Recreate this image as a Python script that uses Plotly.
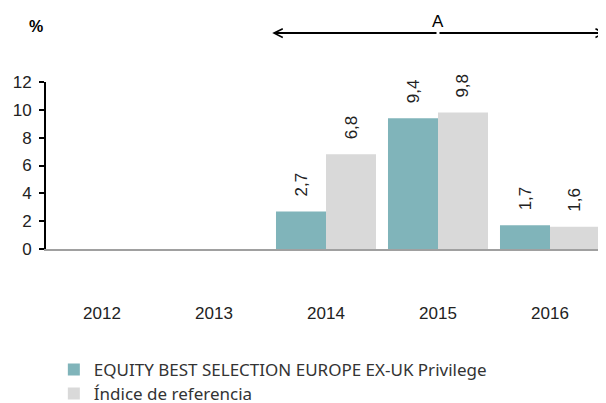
import plotly.graph_objects as go

years = ["2012", "2013", "2014", "2015", "2016"]
fund = [None, None, 2.7, 9.4, 1.7]
index_ref = [None, None, 6.8, 9.8, 1.6]
fund_name = "EQUITY BEST SELECTION EUROPE EX-UK Privilege"
index_name = "Índice de referencia"

teal = "#80B4BA"
grey = "#D9D9D9"

fig = go.Figure()
fig.add_trace(go.Bar(x=years, y=fund, name=fund_name, legend="legend",
                     marker=dict(color=teal, line=dict(width=0))))
fig.add_trace(go.Bar(x=years, y=index_ref, name=index_name, legend="legend2",
                     marker=dict(color=grey, line=dict(width=0))))

ann = []
for vals, shift in ((fund, -25), (index_ref, 25)):
    for i, v in enumerate(vals):
        if v is None:
            continue
        ann.append(dict(x=i, y=v, xref="x", yref="y", text=f"{v:.1f}".replace(".", ","),
                        showarrow=False, textangle=-90, xshift=shift, yshift=13,
                        yanchor="bottom", xanchor="center",
                        font=dict(family="Liberation Sans, Arial", size=17, color="#222")))

# arrow across period A (two heads pointing outward from the middle)
for head in (1.52, 4.5):
    ann.append(dict(x=head, y=1.293, xref="x", yref="paper", ax=3, ay=0, axref="x", ayref="pixel",
                    showarrow=True, arrowhead=5, arrowwidth=2, arrowsize=0.85, arrowcolor="#000", text=""))
ann.append(dict(x=3, y=1.43, xref="x", yref="paper", text="A", showarrow=False,
                font=dict(family="Liberation Sans, Arial", size=17, color="#000")))
ann.append(dict(x=-0.034, y=1.396, xref="paper", yref="paper", text="<b>%</b>", showarrow=False,
                font=dict(family="Liberation Sans, Arial", size=16, color="#000")))

legend_font = dict(family="Noto Sans, Lato", size=17, color="#333")

# the page body adds an 8px offset, so the figure is 8px smaller and margins are shifted
fig.update_layout(
    width=598, height=395,
    margin=dict(l=38, r=0, t=74, b=154, autoexpand=False),
    plot_bgcolor="white", paper_bgcolor="white",
    barmode="group", bargap=0.107, bargroupgap=0,
    showlegend=True,
    legend=dict(x=0.014, y=-0.7246, xanchor="left", yanchor="middle", font=legend_font,
                itemsizing="constant", bgcolor="rgba(0,0,0,0)"),
    legend2=dict(x=0.014, y=-0.868, xanchor="left", yanchor="middle", font=legend_font,
                 itemsizing="constant", bgcolor="rgba(0,0,0,0)"),
    annotations=ann,
    font=dict(family="Liberation Sans, Arial", size=17, color="#222"),
)
fig.update_xaxes(type="category", range=[-0.5, 4.5], showline=True, linecolor="#A0A0A0", linewidth=2,
                 ticks="", showgrid=False, ticklabelstandoff=48, automargin=False,
                 tickfont=dict(family="Liberation Sans, Arial", size=17, color="#222"))
fig.update_yaxes(range=[0, 12], tickvals=[0, 2, 4, 6, 8, 10, 12], showline=True, linecolor="#000",
                 linewidth=2, ticks="outside", ticklen=5, tickcolor="#000", tickwidth=2, showgrid=False,
                 zeroline=False, ticklabelstandoff=4, automargin=False,
                 tickfont=dict(family="Liberation Sans, Arial", size=17, color="#222"))

fig.write_html("out.html")
